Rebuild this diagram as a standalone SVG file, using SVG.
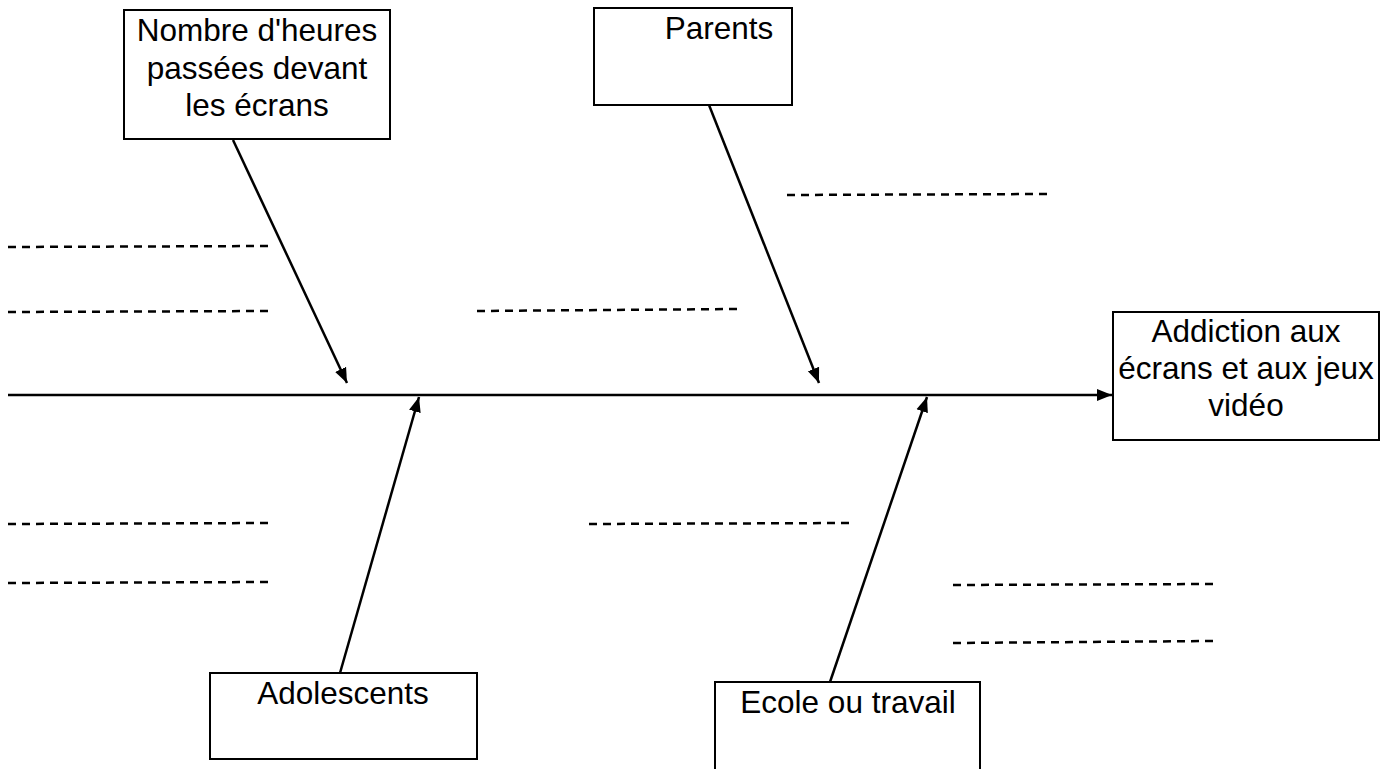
<svg xmlns="http://www.w3.org/2000/svg" width="1395" height="769" viewBox="0 0 1395 769">
<defs>
<style>
.box{fill:#fff;stroke:#000;stroke-width:2}
.t{font-family:"Liberation Sans",Arial,sans-serif;font-size:31.5px;fill:#000;text-anchor:middle}
.c{stroke:#000;stroke-width:2.5;fill:none}
.d{stroke:#000;stroke-width:2.5;stroke-dasharray:8 6;fill:none}
</style>
<marker id="ah" viewBox="0 0 10 10" refX="10" refY="5" markerWidth="6" markerHeight="6" markerUnits="strokeWidth" orient="auto">
<path d="M0,1 L10,5 L0,9 z" fill="#000"/>
</marker>
</defs>
<rect width="1395" height="769" fill="#fff"/>
<g id="connectors">
<line class="c" x1="8" y1="395" x2="1112" y2="395" marker-end="url(#ah)"/>
<line class="c" x1="233" y1="140" x2="347" y2="383" marker-end="url(#ah)"/>
<line class="c" x1="709" y1="105" x2="819" y2="383" marker-end="url(#ah)"/>
<line class="c" x1="340" y1="673" x2="419" y2="397" marker-end="url(#ah)"/>
<line class="c" x1="830" y1="682" x2="927" y2="397" marker-end="url(#ah)"/>
</g>
<g id="dashes">
<line class="d" x1="8" y1="247" x2="270" y2="246"/>
<line class="d" x1="8" y1="312" x2="270" y2="311"/>
<line class="d" x1="8" y1="524" x2="270" y2="523"/>
<line class="d" x1="8" y1="583" x2="270" y2="582"/>
<line class="d" x1="787" y1="195" x2="1048" y2="194"/>
<line class="d" x1="477" y1="311" x2="738" y2="309"/>
<line class="d" x1="589" y1="524" x2="850" y2="523"/>
<line class="d" x1="953" y1="585" x2="1214" y2="584"/>
<line class="d" x1="953" y1="643" x2="1214" y2="641"/>
</g>
<g id="node-heures">
<rect class="box" x="124" y="10" width="266" height="129"/>
<text class="t" x="257" y="41">Nombre d'heures</text>
<text class="t" x="257" y="79">passées devant</text>
<text class="t" x="257" y="116">les écrans</text>
</g>
<g id="node-parents">
<rect class="box" x="594" y="8" width="198" height="97"/>
<text class="t" x="719" y="39">Parents</text>
</g>
<g id="node-addiction">
<rect class="box" x="1113" y="312" width="266" height="128"/>
<text class="t" x="1246" y="342">Addiction aux</text>
<text class="t" x="1246" y="379">écrans et aux jeux</text>
<text class="t" x="1246" y="416">vidéo</text>
</g>
<g id="node-adolescents">
<rect class="box" x="210" y="673" width="267" height="86"/>
<text class="t" x="343" y="704">Adolescents</text>
</g>
<g id="node-ecole">
<rect class="box" x="715" y="682" width="265" height="100"/>
<text class="t" x="848" y="713">Ecole ou travail</text>
</g>
</svg>
